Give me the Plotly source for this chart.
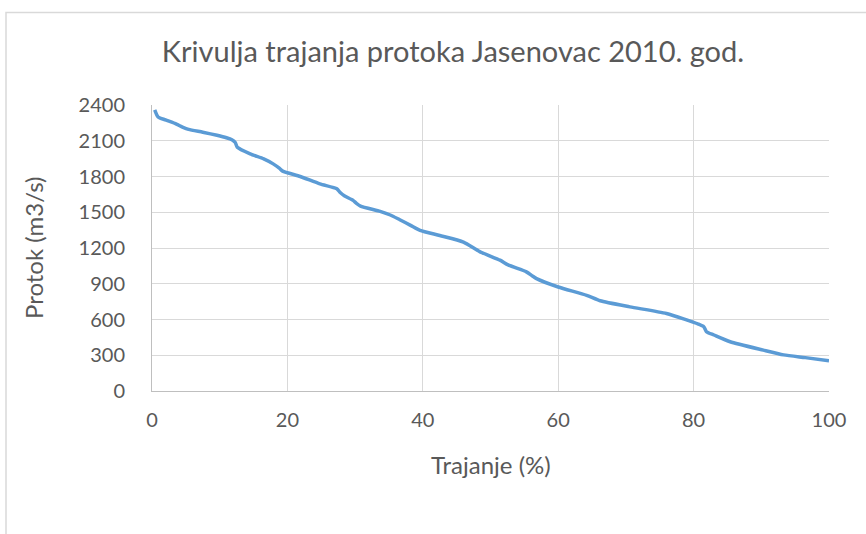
import plotly.graph_objects as go

duration_pct = [0.4, 0.9, 2.0, 3.6, 4.5, 5.4, 7.5, 9.6, 11.0, 11.8, 12.3, 12.6, 14.5, 16.5, 17.9, 18.8, 19.3,
                21.9, 24.8, 27.3, 27.8, 28.4, 29.7, 30.2, 30.8, 33.7, 35.2, 36.6, 38.2, 39.6, 42.5, 46.0,
                48.4, 51.4, 52.6, 55.3, 56.2, 56.8, 60.0, 64.2, 66.2, 70.6, 76.0, 80.7, 81.5, 81.9, 83.0,
                85.4, 90.3, 93.3, 96.5, 100.0]
flow_m3s = [2360, 2300, 2275, 2240, 2215, 2195, 2172, 2146, 2125, 2108, 2085, 2045, 1990, 1948, 1906, 1870, 1845,
            1800, 1738, 1697, 1665, 1638, 1600, 1575, 1552, 1507, 1477, 1437, 1390, 1348, 1305, 1250,
            1170, 1098, 1058, 1000, 965, 943, 873, 803, 757, 706, 650, 562, 540, 498, 470,
            413, 343, 303, 280, 254]

x_ticks = [0, 20, 40, 60, 80, 100]
y_ticks = [0, 300, 600, 900, 1200, 1500, 1800, 2100, 2400]

font_family = "Lato, 'Open Sans', sans-serif"
text_color = "#595959"
grid_color = "#d9d9d9"

W, H = 866, 534
L, R, T, B = 152, 829, 105, 391
pw, ph = R - L, B - T

def px_x(p):
    return (p - L) / pw

def px_y(p):
    return (B - p) / ph

fig = go.Figure()
fig.add_trace(go.Scatter(
    x=duration_pct, y=flow_m3s, mode="lines",
    line=dict(color="#5B9BD5", width=3.5, shape="spline", smoothing=0.6),
    showlegend=False, hoverinfo="x+y",
))

fig.update_layout(
    width=W, height=H,
    margin=dict(l=L, r=W - R, t=T, b=H - B),
    paper_bgcolor="white", plot_bgcolor="white",
    font=dict(family=font_family, color=text_color),
    title=dict(text="Krivulja trajanja protoka Jasenovac 2010. god.",
               x=453 / W, xanchor="center", y=1 - 52 / H, yanchor="middle",
               font=dict(size=29, color=text_color, family=font_family)),
    xaxis=dict(range=[0, 100], tickvals=x_ticks, ticktext=[str(v) for v in x_ticks],
               showgrid=True, gridcolor=grid_color, gridwidth=1,
               showline=True, linecolor="#bfbfbf", linewidth=1,
               ticks="", tickfont=dict(size=20, color=text_color), ticklabelstandoff=11,
               zeroline=False),
    yaxis=dict(range=[0, 2400], tickvals=y_ticks, ticktext=[str(v) for v in y_ticks],
               showgrid=True, gridcolor=grid_color, gridwidth=1,
               showline=True, linecolor="#bfbfbf", linewidth=1,
               ticks="", tickfont=dict(size=20, color=text_color), ticklabelstandoff=22,
               zeroline=False),
    annotations=[
        dict(text="Trajanje (%)", xref="paper", yref="paper", x=0.5, y=px_y(464),
             xanchor="center", yanchor="middle", showarrow=False,
             font=dict(size=24, color=text_color, family=font_family)),
        dict(text="Protok (m3/s)", xref="paper", yref="paper", x=px_x(33), y=0.5,
             xanchor="center", yanchor="middle", showarrow=False, textangle=-90,
             font=dict(size=24, color=text_color, family=font_family)),
    ],
    shapes=[dict(type="rect", xref="paper", yref="paper",
                 x0=px_x(6), x1=px_x(900), y0=px_y(600), y1=px_y(12.5),
                 line=dict(color=grid_color, width=1.5), fillcolor="rgba(0,0,0,0)", layer="below")],
)

fig.write_html("out.html", config={"displayModeBar": False},
               post_script="document.body.style.margin='0';")
